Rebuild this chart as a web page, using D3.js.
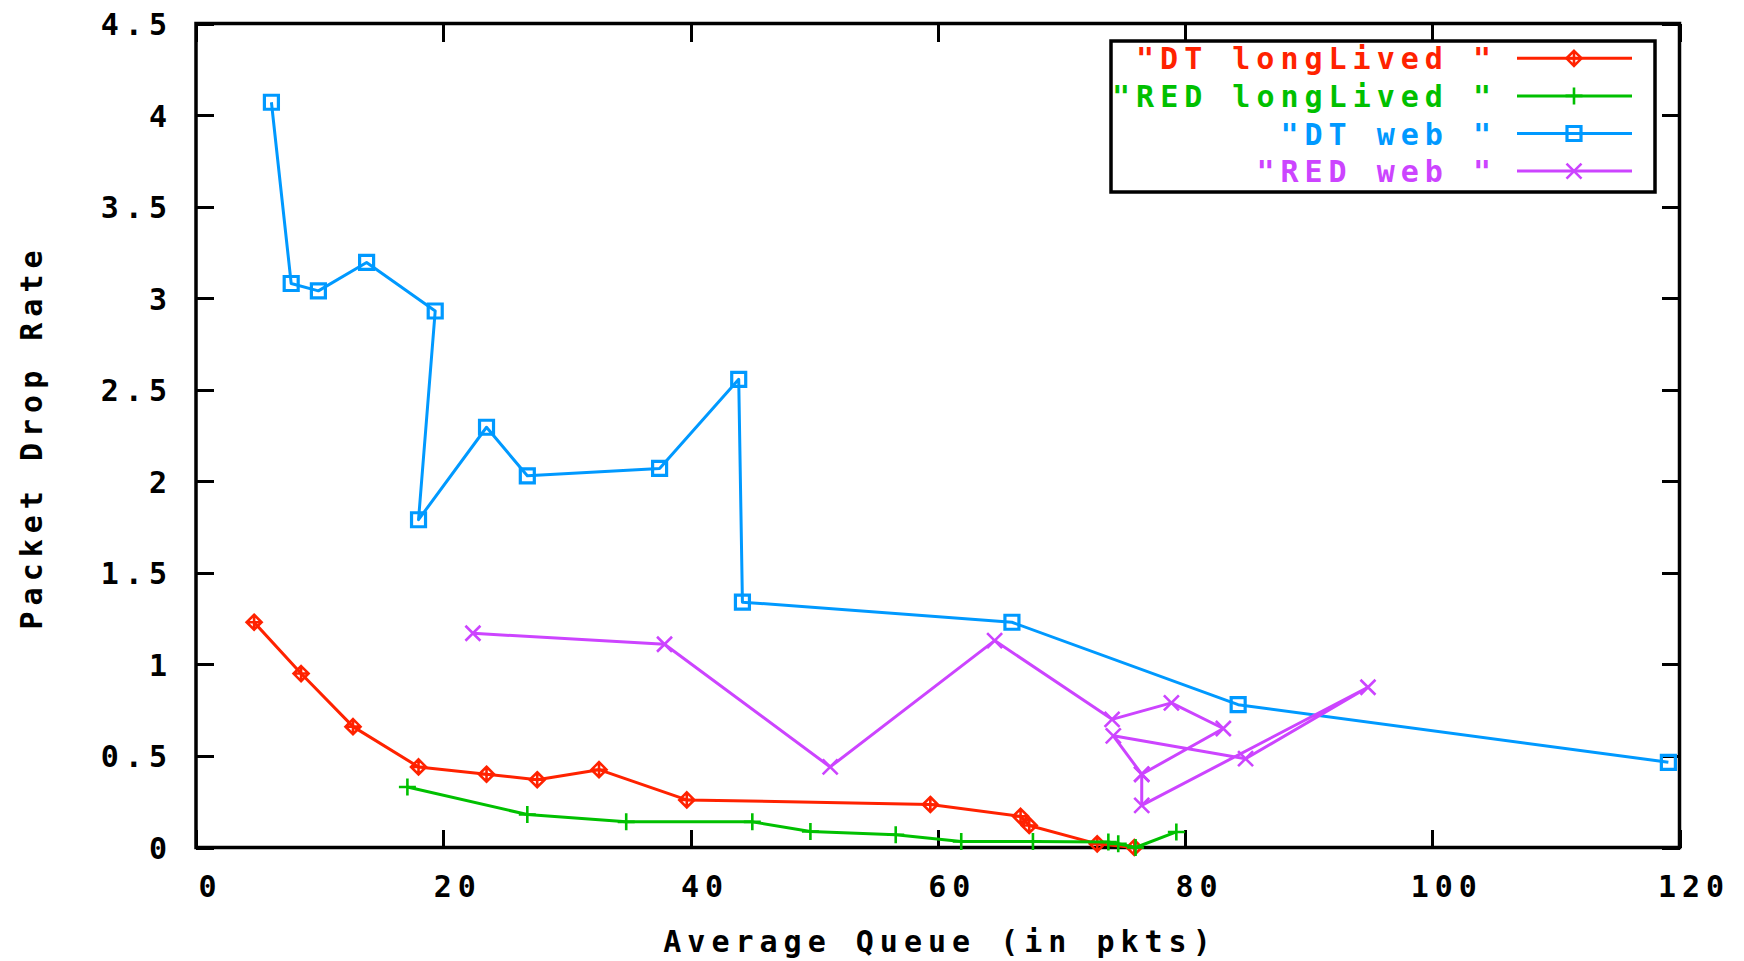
<!DOCTYPE html>
<html>
<head>
<meta charset="utf-8">
<script src="https://cdn.jsdelivr.net/npm/d3@7"></script>
<style>
  body { margin: 0; background: #fff; }
  svg { display: block; }
  text { font-family: "DejaVu Sans Mono", "Liberation Mono", monospace; font-size: 30px; font-weight: bold; letter-spacing: 6px; }
</style>
</head>
<body>
<div id="chart"></div>
<script>
// x ticks and y ticks
var xTicks = [0, 20, 40, 60, 80, 100, 120];
var yTicks = [0, 0.5, 1, 1.5, 2, 2.5, 3, 3.5, 4, 4.5];

// "DT longLived " : average queue (pkts) / packet drop rate
var dtLongQ = [4.7, 8.5, 12.7, 18.0, 23.5, 27.6, 32.6, 39.7, 59.4, 66.7, 67.4, 72.9, 75.9];
var dtLongR = [1.23, 0.95, 0.66, 0.44, 0.40, 0.37, 0.425, 0.26, 0.235, 0.17, 0.12, 0.02, 0.0];

// "RED longLived "
var redLongQ = [17.1, 26.8, 34.8, 45.0, 49.7, 56.6, 61.9, 67.7, 73.8, 74.6, 76.0, 79.3];
var redLongR = [0.33, 0.18, 0.14, 0.14, 0.087, 0.07, 0.033, 0.033, 0.03, 0.02, 0.0, 0.085];

// "DT web "
var dtWebQ = [6.1, 7.7, 9.9, 13.8, 19.35, 18.0, 23.5, 26.8, 37.5, 43.9, 44.2, 66.0, 84.3, 119.1];
var dtWebR = [4.07, 3.08, 3.04, 3.195, 2.93, 1.79, 2.295, 2.03, 2.07, 2.557, 1.34, 1.23, 0.78, 0.465];

// "RED web "
var redWebQ = [22.4, 37.9, 51.3, 64.6, 74.1, 78.9, 83.1, 76.5, 76.5, 94.8, 84.9, 74.2, 76.5];
var redWebR = [1.17, 1.11, 0.44, 1.13, 0.70, 0.79, 0.65, 0.40, 0.23, 0.875, 0.485, 0.61, 0.40];

var seriesNames = ['"DT longLived "', '"RED longLived "', '"DT web "', '"RED web "'];
var seriesColors = ["#ff2200", "#00c000", "#0099ff", "#cc44ff"];
var seriesQ = [dtLongQ, redLongQ, dtWebQ, redWebQ];
var seriesR = [dtLongR, redLongR, dtWebR, redWebR];
var markKinds = ["diamond", "plus", "square", "cross"];

var svgWidth = 1744, svgHeight = 961;
var frame = { left: 196, right: 1679.5, top: 23.5, bottom: 847.5 };
var tickLen = 18;

var svg = d3.select("#chart").append("svg").attr("width", svgWidth).attr("height", svgHeight);

var x = d3.scaleLinear().domain([0, 120]).range([frame.left, frame.right]);
var y = d3.scaleLinear().domain([0, 4.5]).range([frame.bottom, frame.top]);

// axes, ticks pointing inwards on all four sides
var fmt = d3.format("~g");
var bottomAxis = svg.append("g").attr("transform", `translate(0, ${frame.bottom})`)
  .call(d3.axisBottom(x).tickValues(xTicks).tickSize(-tickLen).tickFormat(fmt));
var topAxis = svg.append("g").attr("transform", `translate(0, ${frame.top})`)
  .call(d3.axisTop(x).tickValues(xTicks).tickSize(-tickLen).tickFormat(""));
var leftAxis = svg.append("g").attr("transform", `translate(${frame.left}, 0)`)
  .call(d3.axisLeft(y).tickValues(yTicks).tickSize(-tickLen).tickFormat(fmt));
var rightAxis = svg.append("g").attr("transform", `translate(${frame.right}, 0)`)
  .call(d3.axisRight(y).tickValues(yTicks).tickSize(-tickLen).tickFormat(""));

svg.selectAll(".domain").remove();
svg.selectAll(".tick line").attr("stroke", "#000").attr("stroke-width", 3).attr("shape-rendering", "crispEdges");

bottomAxis.selectAll("text").attr("fill", "#000")
  .attr("y", 49.5).attr("x", 14).attr("dy", null).attr("text-anchor", "middle");
leftAxis.selectAll("text").attr("fill", "#000")
  .attr("x", -23).attr("y", 11).attr("dy", null).attr("text-anchor", "end");
svg.selectAll("g").attr("font-family", null).attr("font-size", null);

svg.append("rect").attr("x", frame.left).attr("y", frame.top)
  .attr("width", frame.right - frame.left).attr("height", frame.bottom - frame.top)
  .attr("fill", "none").attr("stroke", "#000").attr("stroke-width", 3.5);

// axis titles
svg.append("text").attr("x", 940).attr("y", 952).attr("text-anchor", "middle")
  .text("Average Queue (in pkts)");
svg.append("text").attr("transform", "translate(42, 437) rotate(-90)").attr("text-anchor", "middle")
  .text("Packet Drop Rate");

// point markers
function markPath(kind, cx, cy) {
  var s = 7.5;
  if (kind === "diamond")
    return `M${cx},${cy - s}L${cx + s},${cy}L${cx},${cy + s}L${cx - s},${cy}Z` +
           `M${cx},${cy - s}V${cy + s}M${cx - s},${cy}H${cx + s}`;
  if (kind === "plus")
    return `M${cx - 8.5},${cy}H${cx + 8.5}M${cx},${cy - 8.5}V${cy + 8.5}`;
  if (kind === "square")
    return `M${cx - 7},${cy - 7}H${cx + 7}V${cy + 7}H${cx - 7}Z`;
  return `M${cx - s},${cy - s}L${cx + s},${cy + s}M${cx - s},${cy + s}L${cx + s},${cy - s}`;
}

var line = d3.line().x(d => x(d[0])).y(d => y(d[1]));

seriesQ.forEach(function(qs, i) {
  var pts = qs.map((q, j) => [q, seriesR[i][j]]);
  var g = svg.append("g");
  g.append("path").datum(pts).attr("d", line).attr("fill", "none")
    .attr("stroke", seriesColors[i]).attr("stroke-width", 3).attr("stroke-linejoin", "round");
  g.selectAll(".mark").data(pts).enter().append("path").attr("class", "mark")
    .attr("d", d => markPath(markKinds[i], x(d[0]), y(d[1])))
    .attr("fill", "none").attr("stroke", seriesColors[i])
    .attr("stroke-width", markKinds[i] === "square" ? 3.2 : 2.6);
});

// legend
var legend = svg.append("g");
legend.append("rect").attr("x", 1111).attr("y", 41).attr("width", 544).attr("height", 151)
  .attr("fill", "#fff").attr("stroke", "#000").attr("stroke-width", 3.5);
seriesNames.forEach(function(name, i) {
  var ly = 58.3 + i * 37.6;
  legend.append("text").attr("x", 1497).attr("y", ly + 11).attr("text-anchor", "end")
    .attr("fill", seriesColors[i]).text(name);
  legend.append("line").attr("x1", 1517).attr("x2", 1632).attr("y1", ly).attr("y2", ly)
    .attr("stroke", seriesColors[i]).attr("stroke-width", 3);
  legend.append("path").attr("d", markPath(markKinds[i], 1574, ly)).attr("fill", "none")
    .attr("stroke", seriesColors[i]).attr("stroke-width", markKinds[i] === "square" ? 3.2 : 2.6);
});
</script>
</body>
</html>
